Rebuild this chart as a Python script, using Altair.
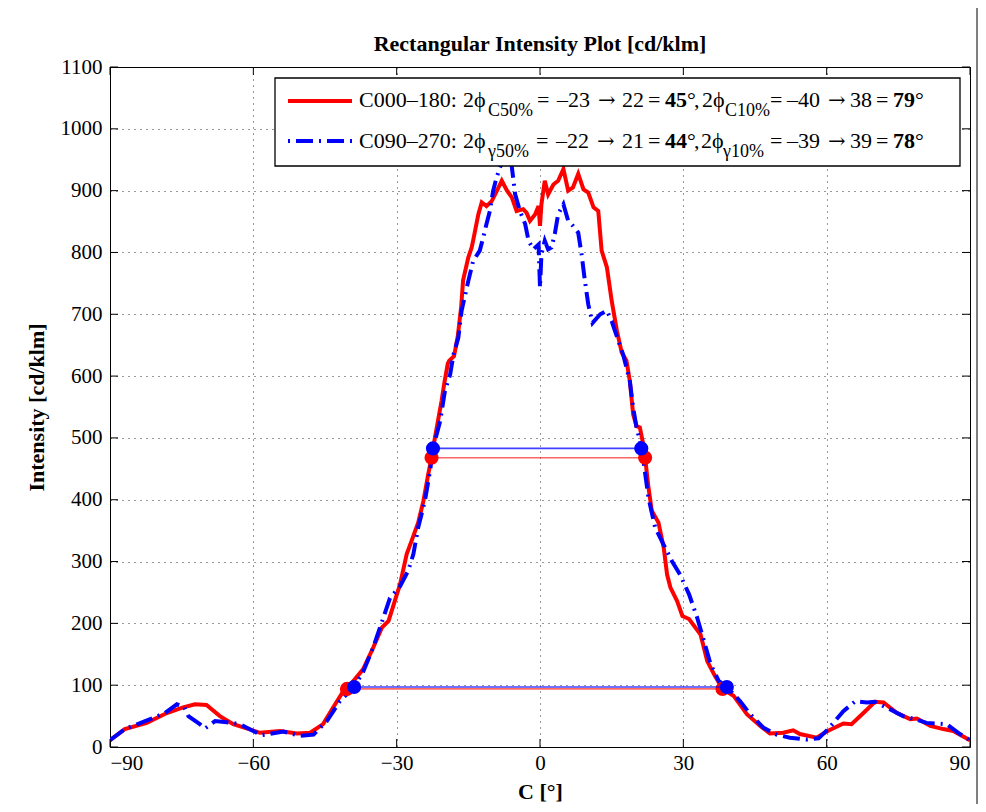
import altair as alt
import pandas as pd

# ---------------- data ----------------
red_deg = [-90, -86.9, -82.3, -78.1, -74.7, -72.2, -69.8, -67.0, -64.2, -61.4, -58.6, -54.4, -50.9, -48.1,
           -45.4, -43.3, -41.2, -40.4, -37.0, -34.9, -33.1, -31.7, -29.3, -27.9, -26.9, -25.5, -24.4, -23.4,
           -22.7, -22.0, -21.6, -20.6, -20.0, -19.3, -19.0, -18.0, -17.2, -16.5, -16.1, -15.0, -14.3, -14.0,
           -12.9, -12.2, -11.2, -10.1, -9.0, -8.0, -6.9, -5.9, -4.9, -3.5, -2.8, -2.1, -1.0, -0.3, 0.0, 0.3,
           1.0, 1.7, 2.8, 3.8, 4.9, 5.9, 6.9, 8.0, 9.1, 10.1, 11.2, 12.2, 12.9, 14.0, 15.0, 16.1, 17.1, 18.1,
           18.8, 19.5, 20.2, 20.9, 21.6, 22.0, 22.7, 23.4, 24.8, 25.9, 26.6, 27.3, 28.7, 29.8, 31.2, 33.6,
           35.0, 36.4, 38.2, 40.5, 43.3, 46.1, 48.1, 50.9, 53.0, 54.4, 57.9, 60.0, 63.5, 65.2, 67.7, 70.1,
           71.9, 74.7, 77.5, 78.9, 81.7, 84.4, 86.5, 90]
red_val = [11, 29, 39, 55, 64, 69, 68, 50, 37, 30, 23, 26, 22, 23,
           37, 64, 90, 94, 126, 161, 193, 204, 263, 312, 333, 363, 398, 441,
           468, 500, 517, 560, 590, 620, 625, 632, 665, 712, 755, 792, 808, 819,
           862, 881, 875, 883, 900, 916, 900, 889, 867, 870, 864, 851, 862, 875, 843, 878,
           916, 894, 910, 916, 935, 900, 905, 927, 902, 897, 873, 867, 803, 776, 722, 673, 638, 625,
           592, 538, 519, 517, 490, 468, 420, 382, 363, 322, 279, 258, 236, 212, 207, 182,
           139, 118, 94, 83, 53, 34, 22, 23, 27, 21, 15, 25, 38, 37, 55, 73,
           72, 55, 45, 46, 34, 29, 26, 11]

blue_deg = [-90, -86.9, -81.6, -78.5, -76.0, -74.5, -73.6, -71.2, -70.1, -68.0, -65.6, -62.8, -59.3, -58.3,
            -53.7, -50.2, -47.4, -44.6, -41.9, -38.9, -37.0, -34.9, -33.5, -31.4, -29.3, -27.6, -26.5, -25.5,
            -24.1, -23.0, -22.4, -20.9, -19.9, -18.8, -18.1, -17.1, -16.4, -15.0, -14.0, -12.6, -11.9, -11.2,
            -10.5, -9.8, -9.1, -8.4, -7.5, -6.6, -6.0, -5.2, -4.2, -3.1, -2.4, -1.4, -0.3, 0.0, 0.3, 1.0,
            1.7, 2.4, 3.1, 3.8, 4.9, 5.9, 6.9, 8.0, 8.7, 9.4, 10.1, 11.0, 12.6, 14.0, 15.0, 16.4, 17.4,
            18.8, 19.5, 20.2, 21.3, 22.7, 24.1, 25.5, 27.6, 29.3, 31.2, 32.9, 34.3, 35.7, 37.4, 39.1,
            41.9, 44.0, 46.8, 49.5, 52.3, 55.8, 58.3, 60.3, 61.4, 63.5, 66.0, 68.4, 70.1, 73.0, 76.0,
            78.5, 80.9, 83.0, 85.1, 87.9, 90]
blue_val = [11, 29, 45, 55, 69, 65, 50, 37, 30, 42, 40, 37, 23, 19,
            25, 18, 20, 42, 74, 97, 122, 161, 193, 241, 260, 285, 312, 355,
            398, 447, 483, 527, 576, 603, 635, 662, 706, 754, 786, 803, 824, 846,
            867, 900, 921, 937, 955, 966, 945, 894, 867, 846, 819, 805, 813, 743, 797, 819,
            805, 808, 830, 862, 878, 851, 843, 832, 797, 754, 716, 686, 700, 706, 689, 657, 635,
            592, 549, 517, 483, 403, 355, 333, 301, 279, 247, 209, 172, 134, 107, 97,
            74, 53, 31, 20, 15, 12, 14, 29, 39, 58, 74, 72, 73, 62, 50,
            45, 39, 38, 37, 21, 11]

# beam-angle crossing points (50 % and 10 % of maximum)
red_cross_lo = [-22.7, -40.4]
red_cross_hi = [22.0, 38.2]
red_cross_val = [468, 94]
blue_cross_lo = [-22.4, -38.9]
blue_cross_hi = [21.2, 39.1]
blue_cross_val = [483, 97]

x_ticks = [-90, -60, -30, 0, 30, 60, 90]
y_ticks = [0, 100, 200, 300, 400, 500, 600, 700, 800, 900, 1000, 1100]

title_text = "Rectangular Intensity Plot [cd/klm]"
x_title = "C [°]"
y_title = "Intensity [cd/klm]"

# legend tokens: (text, style, abs-x) ; style r=regular, b=bold, s=subscript, a=arrow
legend_line1 = [("C000–180:", "r", 359), ("2ϕ", "r", 463), ("C50%", "s", 488), ("=", "r", 537),
                ("–23", "r", 557), ("→", "a", 598), ("22", "r", 622), ("=", "r", 648), ("45", "b", 665),
                ("°", "r", 687), (",", "r", 694), ("2ϕ", "r", 702), ("C10%", "s", 725), ("=", "r", 770),
                ("–40", "r", 787), ("→", "a", 828), ("38", "r", 850), ("=", "r", 876), ("79", "b", 893),
                ("°", "r", 915)]
legend_line2 = [("C090–270:", "r", 359), ("2ϕ", "r", 463), ("γ50%", "s", 488), ("=", "r", 536),
                ("–22", "r", 556), ("→", "a", 597), ("21", "r", 622), ("=", "r", 648), ("44", "b", 665),
                ("°", "r", 687), (",", "r", 694), ("2ϕ", "r", 701), ("γ10%", "s", 723), ("=", "r", 770),
                ("–39", "r", 787), ("→", "a", 828), ("39", "r", 850), ("=", "r", 876), ("78", "b", 893),
                ("°", "r", 915)]

# ---------------- layout ----------------
W, H = 860, 680
OX, OY = 110, 67          # absolute position of the plot origin
FONT = "Liberation Serif"
RED = "#ff0000"
BLUE = "#0000ff"

xs = alt.Scale(domain=[-90, 90], nice=False, zero=False)
ys = alt.Scale(domain=[0, 1100], nice=False)

red_df = pd.DataFrame({"C": red_deg, "I": red_val})
blue_df = pd.DataFrame({"C": blue_deg, "I": blue_val})
red_h = pd.DataFrame({"C": red_cross_lo, "C2": red_cross_hi, "I": red_cross_val})
blue_h = pd.DataFrame({"C": blue_cross_lo, "C2": blue_cross_hi, "I": blue_cross_val})
red_pts = pd.DataFrame({"C": red_cross_lo + red_cross_hi, "I": red_cross_val + red_cross_val})
blue_pts = pd.DataFrame({"C": blue_cross_lo + blue_cross_hi, "I": blue_cross_val + blue_cross_val})
xt_df = pd.DataFrame({"C": x_ticks})
yt_df = pd.DataFrame({"I": y_ticks})

X = alt.X("C:Q", scale=xs, axis=alt.Axis(values=x_ticks, format="d", title=x_title, grid=True,
                                          labelPadding=5, titlePadding=8))
Y = alt.Y("I:Q", scale=ys, axis=alt.Axis(values=y_ticks, format="d", title=y_title, grid=True,
                                          labelPadding=8, titlePadding=12))
Xp = alt.X("C:Q", scale=xs)
Yp = alt.Y("I:Q", scale=ys)

red_line = alt.Chart(red_df).mark_line(color=RED, strokeWidth=4, clip=True).encode(x=X, y=Y)
blue_line = alt.Chart(blue_df).mark_line(color=BLUE, strokeWidth=4, strokeDash=[17, 6, 2, 6],
                                         clip=True).encode(x=Xp, y=Yp)
red_rule = alt.Chart(red_h).mark_rule(color=RED, strokeWidth=1.6, opacity=0.6).encode(
    x=Xp, x2="C2:Q", y=Yp)
blue_rule = alt.Chart(blue_h).mark_rule(color=BLUE, strokeWidth=1.6, opacity=0.75).encode(
    x=Xp, x2="C2:Q", y=Yp)
red_dot = alt.Chart(red_pts).mark_circle(color=RED, size=200, opacity=1).encode(x=Xp, y=Yp)
blue_dot = alt.Chart(blue_pts).mark_circle(color=BLUE, size=200, opacity=1).encode(x=Xp, y=Yp)

TL = 8
tick_layers = [
    alt.Chart(xt_df).mark_rule(color="black", strokeWidth=1).encode(x=Xp, y=alt.value(H), y2=alt.value(H - TL)),
    alt.Chart(xt_df).mark_rule(color="black", strokeWidth=1).encode(x=Xp, y=alt.value(0), y2=alt.value(TL)),
    alt.Chart(yt_df).mark_rule(color="black", strokeWidth=1).encode(y=Yp, x=alt.value(0), x2=alt.value(TL)),
    alt.Chart(yt_df).mark_rule(color="black", strokeWidth=1).encode(y=Yp, x=alt.value(W), x2=alt.value(W - TL)),
]

one = pd.DataFrame({"k": [0]})

# legend box
leg_box = alt.Chart(one).mark_rect(fill="white", stroke="black", strokeWidth=1.3).encode(
    x=alt.value(275 - OX), x2=alt.value(960 - OX), y=alt.value(78 - OY), y2=alt.value(166 - OY))
leg_red = alt.Chart(one).mark_rule(color=RED, strokeWidth=4).encode(
    x=alt.value(288 - OX), x2=alt.value(352 - OX), y=alt.value(101 - OY))
leg_blue = alt.Chart(one).mark_rule(color=BLUE, strokeWidth=4, strokeDash=[2, 6, 17, 6]).encode(
    x=alt.value(288 - OX), x2=alt.value(354 - OX), y=alt.value(141 - OY))

text_layers = []
for tokens, base_y, sub_y in [(legend_line1, 107, 116), (legend_line2, 148, 157)]:
    for txt, style, ax in tokens:
        fnt = FONT + ", DejaVu Serif"
        if style == "s":
            mk = dict(fontSize=18, fontWeight="normal")
            yy = sub_y
        elif style == "b":
            mk = dict(fontSize=22, fontWeight="bold")
            yy = base_y
        elif style == "a":
            mk = dict(fontSize=21, fontWeight="normal")
            fnt = "DejaVu Serif"
            yy = base_y
        else:
            mk = dict(fontSize=22, fontWeight="normal")
            yy = base_y
        text_layers.append(
            alt.Chart(one).mark_text(text=txt, font=fnt, align="left",
                                     baseline="alphabetic", color="black", **mk).encode(
                x=alt.value(ax - OX), y=alt.value(yy - OY)))

# chart title as a text mark centred over the plot
title_mark = alt.Chart(one).mark_text(text=title_text, font=FONT, fontSize=22, fontWeight="bold",
                                      align="center", baseline="alphabetic", color="black").encode(
    x=alt.value(W / 2), y=alt.value(51 - OY))

# figure frame
frame = alt.Chart(one).mark_rect(fillOpacity=0, stroke="#555555", strokeWidth=1.5).encode(
    x=alt.value(7 - OX), x2=alt.value(977 - OX), y=alt.value(7 - OY), y2=alt.value(830 - OY))

chart = alt.layer(
    red_line, blue_line, red_rule, red_dot, blue_rule, blue_dot,
    *tick_layers, leg_box, leg_red, leg_blue, *text_layers, title_mark, frame
).properties(
    width=W, height=H,
    autosize=alt.AutoSizeParams(type="none"),
    padding={"left": OX - 8, "top": OY - 8, "right": 8, "bottom": 57},
).configure_view(
    stroke="black", strokeWidth=1
).configure_axis(
    labelFont=FONT, labelFontSize=21, labelColor="black",
    titleFont=FONT, titleFontSize=22, titleFontWeight="bold", titleColor="black",
    gridColor="black", gridDash=[1, 5], gridOpacity=0.8, gridWidth=1,
    domain=False, ticks=False
)

chart.save("out.html", embed_options={"renderer": "svg", "actions": False})
